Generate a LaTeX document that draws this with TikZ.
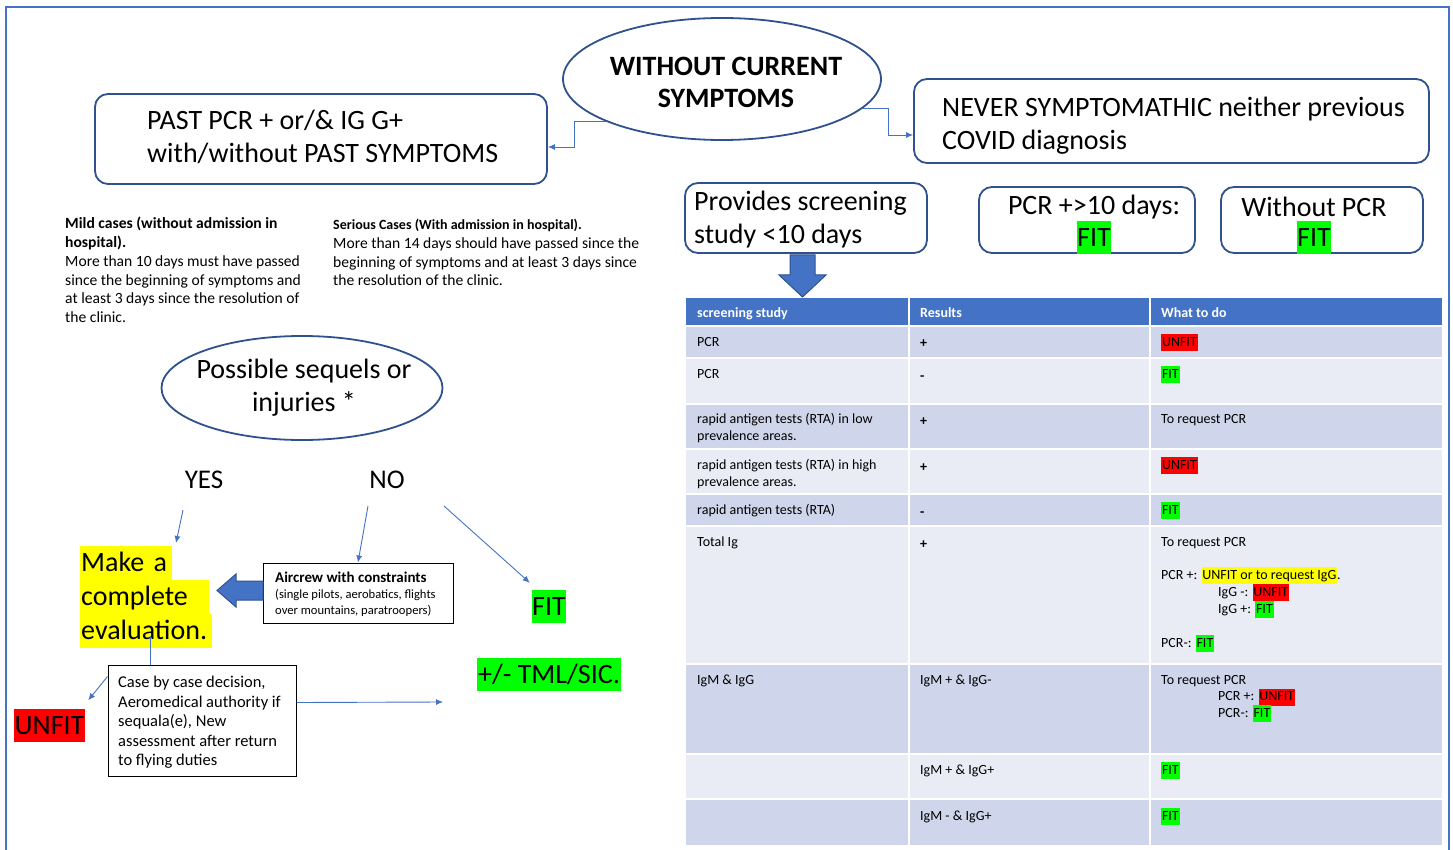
\documentclass[tikz,border=0pt]{standalone}
\usepackage{fontspec}
\setmainfont{Carlito}
\usetikzlibrary{shapes.geometric,arrows.meta,calc}
\definecolor{frameblue}{HTML}{4472C4}
\definecolor{darkblue}{HTML}{2F528F}
\definecolor{rowdark}{HTML}{CFD5EA}
\definecolor{rowlight}{HTML}{E9EBF5}
\definecolor{hlgreen}{HTML}{00FF00}
\definecolor{hlred}{HTML}{FF0000}
\definecolor{hlyellow}{HTML}{FFFF00}
\newcommand{\hlc}[2]{{\setlength{\fboxsep}{0pt}\colorbox{#1}{\kern0.8pt\strut#2\kern0.8pt}}}
\newcommand{\bigf}{\fontsize{28}{33.5}\selectfont}
\newcommand{\tblf}{\fontsize{14}{17}\selectfont}
\newcommand{\notef}{\fontsize{15.6}{18.8}\selectfont}
\begin{document}
\begin{tikzpicture}[x=1pt,y=-1pt,
  rbox/.style={draw=darkblue, line width=1.8pt, rounded corners=13pt, inner sep=0pt},
  oval/.style={ellipse, draw=darkblue, line width=1.8pt, inner sep=0pt},
  conn/.style={draw=frameblue, line width=0.9pt, -{Latex[length=7pt,width=6pt]}},
  plainline/.style={draw=frameblue, line width=0.9pt},
  plainbox/.style={draw=black, line width=1pt, inner sep=0pt},
  txt/.style={inner sep=0pt, align=left, anchor=north west},
  hly/.style={fill=hlyellow, anchor=north west, inner xsep=1pt, inner ysep=0pt, minimum height=33.5pt, font=\bigf, text height=22pt, text depth=4pt, align=left},
  hlbig/.style={inner sep=0pt, minimum height=33pt, font=\bigf, text height=22pt, text depth=4pt},
  blockarrow/.style={fill=frameblue, draw=darkblue, line width=1pt},
  cell/.style={inner sep=0pt, align=left, anchor=north west, font=\tblf},
]
\useasboundingbox (0,0) rectangle (1453,850);
\fill[white] (0,0) rectangle (1453,850);
\draw[frameblue, line width=1.5pt] (6,7) rectangle (1449,880);

% ---------- top ----------
\node[oval, minimum width=318pt, minimum height=122pt] (wcs) at (722,79) {};
\node[font=\fontsize{28}{32}\selectfont\bfseries, align=center, inner sep=0pt] (wcst) at (726,82.5) {WITHOUT CURRENT\\SYMPTOMS};

\node[rbox, minimum width=452pt, minimum height=90pt] (past) at (321,139) {};
\node[txt, anchor=west, font=\bigf] (pastt) at (147,137) {PAST PCR + or/\& IG G+\\with/without PAST SYMPTOMS};

\node[rbox, minimum width=515pt, minimum height=84pt] (never) at (1171.5,121) {};
\node[txt, anchor=west, font=\bigf] (nevert) at (942,125.5) {NEVER SYMPTOMATHIC neither previous\\COVID diagnosis};

\draw[conn] (wcs.200) -- ++(-31,0) |- ([yshift=-8pt]past.east);
\draw[conn] (wcs.-12) -- ++(26,0) |- ([yshift=-14pt]never.west);

% ---------- notes ----------
\node[txt, font=\notef] (mild) at (65,217) {\textbf{Mild cases (without admission in}\\\textbf{hospital).}\\More than 10 days must have passed\\since the beginning of symptoms and\\at least 3 days since the resolution of\\the clinic.};
\node[txt, font=\notef] (serious) at (333,219) {{\fontsize{14}{18.8}\selectfont\bfseries Serious Cases (With admission in hospital).}\\More than 14 days should have passed since the\\beginning of symptoms and at least 3 days since\\the resolution of the clinic.};

% ---------- sequels ----------
\node[oval, minimum width=281pt, minimum height=104pt] (seq) at (302,388) {};
\node[font=\bigf, align=center, inner sep=0pt] (seqt) at (304,387.5) {Possible sequels or\\injuries *};

\node[font=\fontsize{27}{30}\selectfont, inner sep=0pt] (yes) at (204,480) {YES};
\node[font=\fontsize{27}{30}\selectfont, inner sep=0pt] (no) at (387,480) {NO};

\node[hly, text width=90pt] (mk1) at (80,546) {Make a};
\node[hly, text width=127pt] (mk2) at (mk1.south west) {complete};
\node[hly, text width=130pt] (mk3) at (mk2.south west) {evaluation.};

\node[plainbox, minimum width=190pt, minimum height=60pt] (air) at (358,593) {};
\node[txt, font=\fontsize{12.6}{16}\selectfont] (airt) at (275,571.5) {{\fontsize{15}{16}\selectfont\bfseries Aircrew with constraints}\\(single pilots, aerobatics, flights\\over mountains, paratroopers)};

\node[hlbig, fill=hlgreen, minimum width=34pt] (fit) at (549,606.5) {FIT};
\node[hlbig, fill=hlgreen, minimum width=144pt] (tml) at (549,674) {+/- TML/SIC.};

\node[plainbox, minimum width=188pt, minimum height=111pt] (case) at (202,720.5) {};
\node[txt, font=\fontsize{16.5}{19.5}\selectfont] (caset) at (118,676) {Case by case decision,\\Aeromedical authority if\\sequala(e), New\\assessment after return\\to flying duties};

\node[hlbig, fill=hlred, minimum width=71pt] (unfit) at (49.5,725) {UNFIT};

\coordinate (yesTail) at (183,510);
\coordinate (yesHead) at (176,543);
\draw[conn] (yesTail) -- (yesHead);
\coordinate (noTail) at (368,506);
\draw[conn] (noTail) -- (air.north);
\coordinate (noTail2) at (444,506);
\draw[conn] (noTail2) -- ($(fit.north west)+(-2,-7)$);
\draw[blockarrow] (263,581) -- (236,581) -- (236,574) -- (217,590.5) -- (236,607) -- (236,600) -- (263,600) -- cycle;
\coordinate (evTail) at (150,636);
\draw[plainline] (evTail) -- (evTail |- case.north);
\draw[conn] ([yshift=-12pt]case.north west) -- ($(unfit.north east)+(3,-8)$);
\coordinate (caseHead) at (443,702);
\draw[conn] ([yshift=18pt]case.east) -- (caseHead);

% ---------- right top ----------
\node[rbox, minimum width=242pt, minimum height=70pt] (prov) at (806,218) {};
\node[txt, anchor=west, font=\bigf] (provt) at (694,219.5) {Provides screening\\study <10 days};

\node[rbox, minimum width=216pt, minimum height=66pt] (pcr10) at (1087,220) {};
\node[font=\bigf, inner sep=0pt] (pcr10t) at (1094,207) {PCR +>10 days:};
\node[hlbig, fill=hlgreen, minimum width=34pt] (pcr10fit) at (1094,238) {FIT};

\node[rbox, minimum width=202pt, minimum height=66pt] (wpcr) at (1322,220) {};
\node[font=\bigf, inner sep=0pt] (wpcrt) at (1314,207) {Without PCR};
\node[hlbig, fill=hlgreen, minimum width=34pt] (wpcrfit) at (1314,238) {FIT};

\draw[blockarrow] (790,255) -- (815,255) -- (815,275) -- (826,275) -- (802.5,297) -- (779,275) -- (790,275) -- cycle;

% ---------- table ----------
\fill[frameblue] (686,298) rectangle (1442,325);
\fill[rowdark]  (686,327) rectangle (1442,357);
\fill[rowlight] (686,359) rectangle (1442,403);
\fill[rowdark]  (686,405) rectangle (1442,448);
\fill[rowlight] (686,450) rectangle (1442,493);
\fill[rowdark]  (686,495) rectangle (1442,525);
\fill[rowlight] (686,527) rectangle (1442,663);
\fill[rowdark]  (686,665) rectangle (1442,753);
\fill[rowlight] (686,755) rectangle (1442,798);
\fill[rowdark]  (686,800) rectangle (1442,845);
\fill[white] (908,298) rectangle (910,845);
\fill[white] (1149,298) rectangle (1151,845);

\node[cell, text=white, font=\tblf\bfseries] (h1) at (697,305) {\strut screening study};
\node[cell, text=white, font=\tblf\bfseries] (h2) at (920,305) {\strut Results};
\node[cell, text=white, font=\tblf\bfseries] (h3) at (1161,305) {\strut What to do};

\node[cell] (r1a) at (697,334) {\strut PCR};
\node[cell, font=\tblf\bfseries] (r1b) at (920,335) {\strut +};
\node[cell] (r1c) at (1161,334) {\hlc{hlred}{UNFIT}};

\node[cell] (r2a) at (697,366) {\strut PCR};
\node[cell, font=\tblf\bfseries] (r2b) at (920,368) {\strut -};
\node[cell] (r2c) at (1161,366) {\hlc{hlgreen}{FIT}};

\node[cell] (r3a) at (697,411) {\strut rapid antigen tests (RTA) in low\\prevalence areas.};
\node[cell, font=\tblf\bfseries] (r3b) at (920,413) {\strut +};
\node[cell] (r3c) at (1161,411) {\strut To request PCR};

\node[cell] (r4a) at (697,457) {\strut rapid antigen tests (RTA) in high\\prevalence areas.};
\node[cell, font=\tblf\bfseries] (r4b) at (920,459) {\strut +};
\node[cell] (r4c) at (1161,457) {\hlc{hlred}{UNFIT}};

\node[cell] (r5a) at (697,502) {\strut rapid antigen tests (RTA)};
\node[cell, font=\tblf\bfseries] (r5b) at (920,504) {\strut -};
\node[cell] (r5c) at (1161,502) {\hlc{hlgreen}{FIT}};

\node[cell] (r6a) at (697,534) {\strut Total Ig};
\node[cell, font=\tblf\bfseries] (r6b) at (920,536) {\strut +};
\node[cell] (r6c) at (1161,534) {\strut To request PCR\\[16pt]PCR +: \hlc{hlyellow}{UNFIT or to request IgG}.\\\hspace*{57pt}IgG -: \hlc{hlred}{UNFIT}\\\hspace*{57pt}IgG +: \hlc{hlgreen}{FIT}\\[17pt]PCR-: \hlc{hlgreen}{FIT}};

\node[cell] (r7a) at (697,672) {\strut IgM \& IgG};
\node[cell] (r7b) at (920,672) {\strut IgM + \& IgG-};
\node[cell] (r7c) at (1161,672) {\strut To request PCR\\[-0.5pt]\hspace*{57pt}PCR +: \hlc{hlred}{UNFIT}\\[-0.5pt]\hspace*{57pt}PCR-: \hlc{hlgreen}{FIT}};

\node[cell] (r8b) at (920,762) {\strut IgM + \& IgG+};
\node[cell] (r8c) at (1161,762) {\hlc{hlgreen}{FIT}};

\node[cell] (r9b) at (920,808) {\strut IgM - \& IgG+};
\node[cell] (r9c) at (1161,808) {\hlc{hlgreen}{FIT}};
\end{tikzpicture}
\end{document}
